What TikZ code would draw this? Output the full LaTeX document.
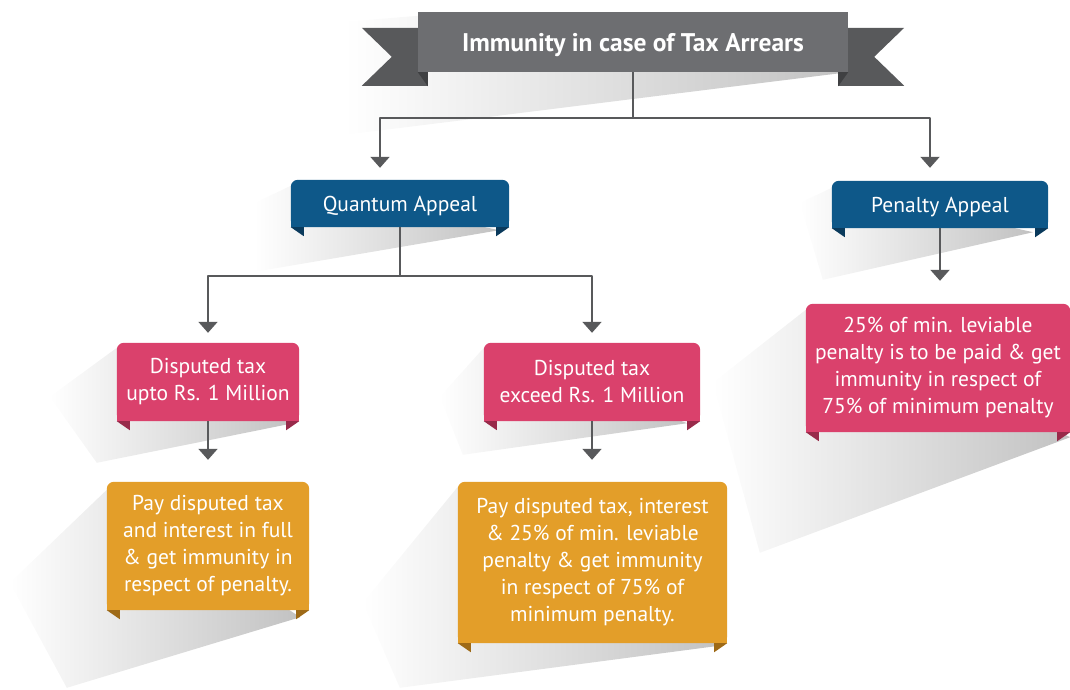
\documentclass[tikz,border=0pt]{standalone}
\usepackage{fontspec}
\setmainfont{PT Sans}
\usetikzlibrary{arrows.meta,calc}
\definecolor{barGray}{HTML}{6D6E71}
\definecolor{tailGray}{HTML}{58595B}
\definecolor{foldGray}{HTML}{3F4042}
\definecolor{qBlue}{HTML}{0E5889}
\definecolor{qBlueF}{HTML}{0A3A5C}
\definecolor{dPink}{HTML}{DA416C}
\definecolor{dPinkF}{HTML}{982A4A}
\definecolor{pOrange}{HTML}{E39E29}
\definecolor{pOrangeF}{HTML}{9E6A17}
\pgfdeclarelayer{shade}
\pgfdeclarelayer{body}
\pgfsetlayers{shade,body,main}
\begin{document}
\begin{tikzpicture}[x=1pt,y=-1pt, line join=round, >={Triangle[width=19pt,length=11pt]},
	box/.style={text=white, align=center, inner sep=0pt, font=\fontsize{21.5}{27}\selectfont},
	link/.style={draw=tailGray, line width=2pt},
	arr/.style={link, ->},
	shadow/.style={left color=white, right color=black!24}]
	\useasboundingbox (0,0) rectangle (1070,689);
	% tiêu đề
	\node[box, fill=barGray, minimum width=430pt, minimum height=60pt, text depth=0pt, font=\fontsize{25.5}{30}\selectfont\bfseries] (title) at (633,42) {Immunity in case of Tax Arrears};
	\node[box, minimum width=218pt, minimum height=47pt, text depth=0pt] (qa) at (400,203.5) {Quantum Appeal};
	\node[box, minimum width=216pt, minimum height=47pt, text depth=0pt] (pa) at (940,204.5) {Penalty Appeal};
	\node[box, minimum width=182pt, minimum height=78pt] (dlow) at (208,382) {Disputed tax\\upto Rs. 1 Million};
	\node[box, minimum width=216pt, minimum height=78pt] (dhigh) at (592,382) {Disputed tax\\exceed Rs. 1 Million};
	\node[box, minimum width=202pt, minimum height=128pt] (plow) at (208,546) {Pay disputed tax\\and interest in full\\\& get immunity in\\respect of penalty.};
	\node[box, minimum width=269pt, minimum height=161pt] (phigh) at (592.5,562.5) {Pay disputed tax, interest\\\& 25\% of min. leviable\\penalty \& get immunity\\in respect of 75\% of\\minimum penalty.};
	\node[box, minimum width=264pt, minimum height=128pt] (ppen) at (938,368) {25\% of min. leviable\\penalty is to be paid \& get\\immunity in respect of\\75\% of minimum penalty};
	% hộp và dải băng
	\begin{pgfonlayer}{body}
		\foreach \n/\k/\f in {qa/qBlue/qBlueF, pa/qBlue/qBlueF, dlow/dPink/dPinkF, dhigh/dPink/dPinkF, ppen/dPink/dPinkF, plow/pOrange/pOrangeF, phigh/pOrange/pOrangeF}{
			\fill[\k, rounded corners=7pt] (\n.south west) rectangle (\n.north east);
			\fill[\k] (\n.south west) rectangle (\n.east);
			\fill[\f] (\n.south west) -- ++(13,0) -- ++(0,9) -- cycle;
			\fill[\f] (\n.south east) -- ++(-13,0) -- ++(0,9) -- cycle;
		}
		\fill[tailGray] ($(title.north west)+(-56,16)$) -- ++(66,0) -- ++(0,58) -- ++(-66,0) -- ++(30,-29) -- cycle;
		\fill[tailGray] ($(title.north east)+(56,16)$) -- ++(-66,0) -- ++(0,58) -- ++(66,0) -- ++(-30,-29) -- cycle;
		\fill[foldGray] (title.south west) -- ++(10,0) -- ++(0,14) -- cycle;
		\fill[foldGray] (title.south east) -- ++(-10,0) -- ++(0,14) -- cycle;
	\end{pgfonlayer}
	% bóng đổ
	\begin{pgfonlayer}{shade}
		\shade[shadow] ($(title.north west)+(0,4)$) -- ++(-73,6) -- ++(0,113) -- (title.south east) -- cycle;
		\shade[shadow] ($(qa.north west)+(0,6)$) -- ++(-36,17) -- ++(0,69) -- ($(qa.south east)+(-10,3)$) -- cycle;
		\shade[shadow] ($(pa.north west)+(0,7)$) -- ++(-32,15) -- ++(23,77) -- ($(pa.south east)+(-15,4)$) -- cycle;
		\shade[shadow] ($(dlow.north west)+(0,5)$) -- ++(-67,49) -- ++(47,66) -- ($(dlow.south east)+(-6,2)$) -- cycle;
		\shade[shadow] ($(dhigh.north west)+(0,5)$) -- ++(-44,49) -- ++(23,58) -- ($(dhigh.south east)+(-13,2)$) -- cycle;
		\shade[shadow] ($(plow.north west)+(0,8)$) -- ++(-97,93) -- ++(57,105) -- ($(plow.south east)+(-9,7)$) -- cycle;
		\shade[shadow] ($(phigh.north west)+(0,5)$) -- ++(-95,116) -- ++(37,85) -- ($(phigh.south east)+(-4,2)$) -- cycle;
		\shade[shadow] ($(ppen.north west)+(0,6)$) -- ++(-93,73) -- ++(47,170) -- ($(ppen.south east)+(0,5)$) -- cycle;
	\end{pgfonlayer}
	% mũi tên
	\draw[link] (title.south) -- ++(0,46) coordinate (tj);
	\draw[arr, shorten >=12pt] (tj) -| ([xshift=-20pt]qa.north);
	\draw[arr, shorten >=13pt] (tj) -| ([xshift=-10pt]pa.north);
	\draw[link] (qa.south) -- ++(0,49) coordinate (qj);
	\draw[arr, shorten >=10pt] (qj) -| (dlow.north);
	\draw[arr, shorten >=10pt] (qj) -| (dhigh.north);
	\draw[arr, shorten >=22pt] (dlow.south) -- (plow.north);
	\draw[arr, shorten >=22pt] (dhigh.south) -- (dhigh.south |- phigh.north);
	\draw[arr, shorten >=23pt] (pa.south) -- (pa.south |- ppen.north);
\end{tikzpicture}
\end{document}
